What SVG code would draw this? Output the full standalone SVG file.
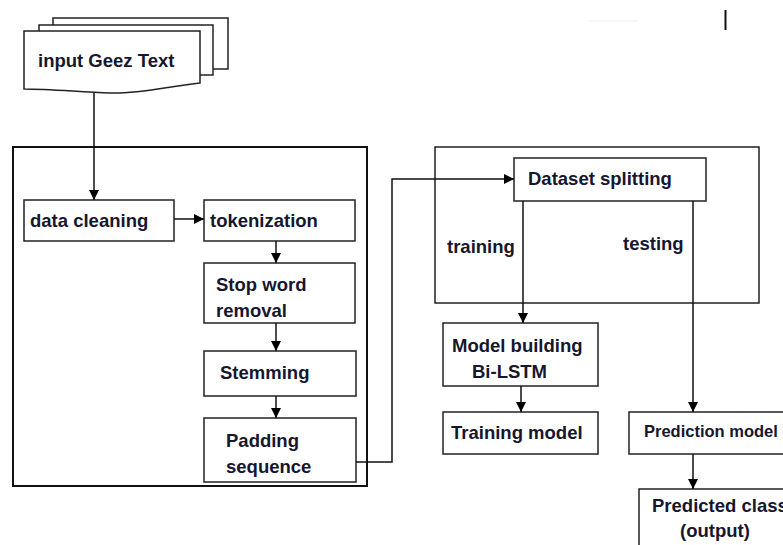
<svg xmlns="http://www.w3.org/2000/svg" width="783" height="545" viewBox="0 0 783 545">
  <defs>
    <marker id="arrow" viewBox="0 0 10 10" refX="10" refY="5" markerWidth="10" markerHeight="10" markerUnits="userSpaceOnUse" orient="auto">
      <path d="M0,0 L10,5 L0,10 z" fill="#000"/>
    </marker>
    <style>
      .box { fill: #fff; stroke: #222; stroke-width: 1.5; }
      .frame { fill: none; stroke: #111; stroke-width: 2; }
      .frame-thin { fill: none; stroke: #111; stroke-width: 1.4; }
      .lbl { font-family: "Liberation Sans", Arial, sans-serif; font-weight: bold; font-size: 18.5px; fill: #16162e; }
      .small { font-size: 16.5px; }
      .edge { fill: none; stroke: #111; stroke-width: 1.5; }
    </style>
  </defs>
  <rect width="783" height="545" fill="#fff"/>

  <!-- stray marks at top right -->
  <line x1="589" y1="21" x2="638" y2="21" stroke="#eee" stroke-width="1"/>
  <line x1="725.5" y1="10" x2="725.5" y2="30" stroke="#111" stroke-width="2"/>

  <!-- group frames -->
  <rect class="frame" x="13" y="147" width="354" height="339"/>
  <rect class="frame-thin" x="435" y="147" width="324" height="156"/>

  <!-- input document stack -->
  <g id="input">
    <rect class="box" x="53" y="18" width="175" height="51"/>
    <rect class="box" x="39" y="25" width="174" height="50"/>
    <path class="box" d="M24,31 H200 V83 C170,86 140,94 110,93 C80,92 50,89 24,89 Z"/>
    <text class="lbl" x="38" y="67">input Geez Text</text>
  </g>

  <g id="data-cleaning">
    <rect class="box" x="24" y="200" width="150" height="41"/>
    <text class="lbl" x="30" y="227">data cleaning</text>
  </g>
  <g id="tokenization">
    <rect class="box" x="204" y="200" width="151" height="41"/>
    <text class="lbl" x="210" y="227">tokenization</text>
  </g>
  <g id="stop-word">
    <rect class="box" x="204" y="263" width="151" height="60"/>
    <text class="lbl" x="216" y="291">Stop word</text>
    <text class="lbl" x="216" y="317">removal</text>
  </g>
  <g id="stemming">
    <rect class="box" x="204" y="351" width="152" height="45"/>
    <text class="lbl" x="220" y="379">Stemming</text>
  </g>
  <g id="padding">
    <rect class="box" x="204" y="418" width="152" height="64"/>
    <text class="lbl" x="226" y="447">Padding</text>
    <text class="lbl" x="226" y="473">sequence</text>
  </g>
  <g id="dataset-splitting">
    <rect class="box" x="514" y="158" width="192" height="43"/>
    <text class="lbl" x="528" y="185">Dataset splitting</text>
  </g>
  <g id="split-labels">
    <text class="lbl" x="447" y="253">training</text>
    <text class="lbl" x="623" y="250">testing</text>
  </g>
  <g id="model-building">
    <rect class="box" x="443" y="323" width="155" height="63"/>
    <text class="lbl" x="452" y="352">Model building</text>
    <text class="lbl" x="472" y="378">Bi-LSTM</text>
  </g>
  <g id="training-model">
    <rect class="box" x="443" y="412" width="155" height="42"/>
    <text class="lbl" x="451" y="439">Training model</text>
  </g>
  <g id="prediction-model">
    <rect class="box" x="629" y="412" width="160" height="42"/>
    <text class="lbl small" x="644" y="437">Prediction model</text>
  </g>
  <g id="predicted-class">
    <rect class="box" x="639" y="489" width="160" height="70"/>
    <text class="lbl" x="652" y="512">Predicted class</text>
    <text class="lbl" x="680" y="537">(output)</text>
  </g>

  <g id="connectors">
    <path class="edge" d="M94,93 V200" marker-end="url(#arrow)"/>
    <path class="edge" d="M174,219 H204" marker-end="url(#arrow)"/>
    <path class="edge" d="M276,241 V263" marker-end="url(#arrow)"/>
    <path class="edge" d="M276,323 V351" marker-end="url(#arrow)"/>
    <path class="edge" d="M276,396 V418" marker-end="url(#arrow)"/>
    <path class="edge" d="M356,462 H392 V179 H514" stroke-width="1.2" marker-end="url(#arrow)"/>
    <path class="edge" d="M523,201 V323" marker-end="url(#arrow)"/>
    <path class="edge" d="M693,201 V412" marker-end="url(#arrow)"/>
    <path class="edge" d="M521,386 V412" marker-end="url(#arrow)"/>
    <path class="edge" d="M693,454 V489" marker-end="url(#arrow)"/>
  </g>
</svg>
